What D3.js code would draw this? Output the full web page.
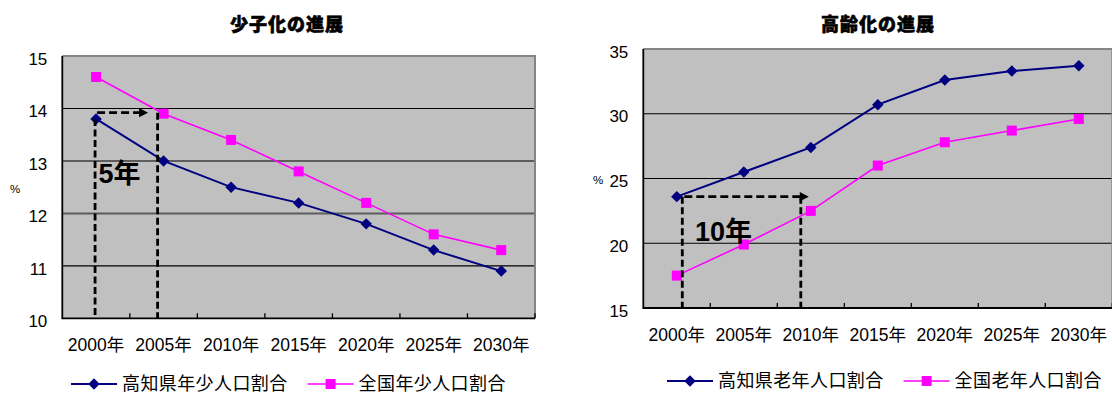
<!DOCTYPE html>
<html>
<head>
<meta charset="utf-8">
<script src="https://cdn.jsdelivr.net/npm/d3@7"></script>
<style>
  html, body { margin: 0; padding: 0; background: #fff; }
  svg { display: block; }
</style>
</head>
<body>
<svg id="chart" width="1112" height="394"></svg>
<script>
// ---- data ----
const years = ["2000年", "2005年", "2010年", "2015年", "2020年", "2025年", "2030年"];

const kochiYouth   = [13.8, 13.0, 12.5, 12.2, 11.8, 11.3, 10.9];
const japanYouth   = [14.6, 13.9, 13.4, 12.8, 12.2, 11.6, 11.3];
const kochiElderly = [23.6, 25.5, 27.4, 30.7, 32.6, 33.3, 33.7];
const japanElderly = [17.5, 19.9, 22.5, 26.0, 27.8, 28.7, 29.6];

const youthTicks   = [10, 11, 12, 13, 14, 15];
const elderlyTicks = [15, 20, 25, 30, 35];

const youthNames   = ["高知県年少人口割合", "全国年少人口割合"];
const elderlyNames = ["高知県老年人口割合", "全国老年人口割合"];

// ---- styling ----
const NAVY = "#000080", MAGENTA = "#FF00FF", PLOT_BG = "#C0C0C0";
const LATIN = "'Liberation Sans', Arial, 'Noto Sans CJK JP', sans-serif";
const CJK = "'Noto Sans CJK JP', 'Noto Sans CJK SC', sans-serif";

const svg = d3.select("#chart");

function drawPanel(p) {
  const g = svg.append("g");
  const x = d3.scaleBand().domain(years).range([p.x0, p.x1]).padding(0);
  const y = d3.scaleLinear().domain(d3.extent(p.ticks)).range([p.yBot, p.yTop]);
  const cx = d => x(d) + x.bandwidth() / 2;

  // plot area
  g.append("rect")
    .attr("x", p.x0).attr("y", p.yTop)
    .attr("width", p.x1 - p.x0).attr("height", p.yBot - p.yTop)
    .attr("fill", PLOT_BG);

  // horizontal gridlines
  const maxTick = d3.max(p.ticks), minTick = d3.min(p.ticks);
  g.append("g").selectAll("line")
    .data(p.ticks.filter(t => t !== maxTick && t !== minTick))
    .join("line")
    .attr("x1", p.x0).attr("x2", p.x1)
    .attr("y1", d => y(d)).attr("y2", d => y(d))
    .attr("stroke", d => p.heavyGrid.includes(d) ? "#5c5c5c" : "#000")
    .attr("stroke-width", d => p.heavyGrid.includes(d) ? 2 : 1.1);

  // top / right border of the plot area
  g.append("path")
    .attr("d", `M${p.x0},${p.yTop}H${p.x1}V${p.yBot}`)
    .attr("fill", "none").attr("stroke", "#858585").attr("stroke-width", 2);

  // y axis labels
  const ya = g.append("g")
    .attr("transform", `translate(${p.x0},0)`)
    .call(d3.axisLeft(y).tickValues(p.ticks).tickSize(0).tickPadding(15).tickFormat(d3.format("d")));
  ya.select(".domain").remove();
  ya.selectAll("text")
    .attr("dy", "0.48em")
    .style("font-family", LATIN).style("font-size", "17px").attr("fill", "#000");

  // x axis labels
  const xa = g.append("g")
    .attr("transform", `translate(0,${p.yBot})`)
    .call(d3.axisBottom(x).tickSize(0));
  xa.select(".domain").remove();
  xa.selectAll("text")
    .attr("y", 33).attr("dy", 0)
    .style("font-family", LATIN).style("font-size", "17.5px").attr("fill", "#000");

  // category boundary ticks (pointing into the plot)
  const bounds = years.map(d => x(d)).concat([x(years[years.length - 1]) + x.bandwidth()]);
  g.append("g").selectAll("line").data(bounds.slice(1)).join("line")
    .attr("x1", d => d).attr("x2", d => d)
    .attr("y1", p.yBot).attr("y2", p.yBot - 5)
    .attr("stroke", "#000").attr("stroke-width", 1.3);

  // axis lines
  g.append("path")
    .attr("d", `M${p.x0},${p.yTop}V${p.yBot}H${p.x1}`)
    .attr("fill", "none").attr("stroke", "#000").attr("stroke-width", 1.8);

  // "%" unit label
  g.append("text")
    .attr("x", p.pctX).attr("y", p.pctY)
    .attr("text-anchor", "middle")
    .style("font-family", LATIN).style("font-size", "11.5px")
    .text("%");

  // title
  g.append("text")
    .attr("x", p.titleX).attr("y", 31)
    .attr("text-anchor", "middle")
    .style("font-family", CJK).style("font-size", "18px").style("font-weight", 900)
    .style("letter-spacing", "1px")
    .attr("stroke", "#000").attr("stroke-width", 0.6)
    .text(p.title);

  // series lines and markers
  const line = d3.line().x((v, i) => cx(years[i])).y(v => y(v));
  const series = [
    { values: p.kochi, color: NAVY, width: 2, symbol: d3.symbol(d3.symbolSquare, 66)(), rot: 45 },
    { values: p.japan, color: MAGENTA, width: 1.6, symbol: d3.symbol(d3.symbolSquare, 100)(), rot: 0 }
  ];
  // draw the national series first so the prefecture line sits on top
  [series[1], series[0]].forEach(s => {
    g.append("path").datum(s.values)
      .attr("d", line).attr("fill", "none")
      .attr("stroke", s.color).attr("stroke-width", s.width);
    g.append("g").selectAll("path").data(s.values).join("path")
      .attr("d", s.symbol)
      .attr("transform", (v, i) => `translate(${cx(years[i])},${y(v)}) rotate(${s.rot})`)
      .attr("fill", s.color);
  });

  // dashed annotation: gap in years
  const a = p.note;
  const vx1 = cx(years[a.from]) + a.dx1;
  const vx2 = cx(years[a.to]) + a.dx2;
  const tip = cx(years[a.to]) + a.dTip;
  const ay = y(a.level);
  const ann = g.append("g").attr("stroke", "#000").attr("stroke-width", 2.8).attr("fill", "none");
  ann.append("line").attr("x1", vx1).attr("x2", vx1).attr("y1", y(a.start)).attr("y2", p.yBot)
    .attr("stroke-dasharray", "7,3.5");
  ann.append("line").attr("x1", vx2).attr("x2", vx2).attr("y1", ay).attr("y2", p.yBot)
    .attr("stroke-dasharray", "7,3.5");
  ann.append("line").attr("x1", vx1 + 2).attr("x2", tip - 8).attr("y1", ay).attr("y2", ay)
    .attr("stroke-dasharray", "8,4");
  g.append("path")
    .attr("d", `M${tip},${ay}L${tip - 9},${ay - 4.7}L${tip - 9},${ay + 4.7}Z`)
    .attr("fill", "#000");
  g.append("text")
    .attr("x", vx1 + a.labelDx).attr("y", y(a.labelLevel))
    .style("font-family", LATIN).style("font-size", "27px").style("font-weight", "bold")
    .attr("fill", "#000")
    .text(a.label);

  // legend
  const lg = g.append("g").attr("transform", `translate(${p.legendX},${p.legendY})`);
  let lx = 0;
  series.forEach((s, i) => {
    lg.append("line").attr("x1", lx).attr("x2", lx + 46).attr("y1", 0).attr("y2", 0)
      .attr("stroke", s.color).attr("stroke-width", s.width);
    lg.append("path").attr("d", s.symbol)
      .attr("transform", `translate(${lx + 23},0) rotate(${s.rot})`).attr("fill", s.color);
    const t = lg.append("text").attr("x", lx + 51).attr("y", 5.5)
      .style("font-family", CJK).style("font-size", "18px")
      .style("letter-spacing", "0.4px")
      .attr("fill", "#000")
      .text(p.names[i]);
    lx += 51 + t.node().getComputedTextLength() + 20;
  });
}

drawPanel({
  x0: 62.3, x1: 535, yTop: 56, yBot: 318.3,
  ticks: youthTicks, heavyGrid: [12, 13],
  kochi: kochiYouth, japan: japanYouth, names: youthNames,
  title: "少子化の進展", titleX: 287,
  pctX: 15, pctY: 193,
  legendX: 71, legendY: 384,
  note: { from: 0, to: 1, start: kochiYouth[0], level: 13.92, dx1: -1, dx2: -6, dTip: -15.5,
          label: "5年", labelDx: 3.5, labelLevel: 12.57 }
});

drawPanel({
  x0: 643.3, x1: 1112.3, yTop: 49, yBot: 308,
  ticks: elderlyTicks, heavyGrid: [],
  kochi: kochiElderly, japan: japanElderly, names: elderlyNames,
  title: "高齢化の進展", titleX: 878,
  pctX: 598, pctY: 184,
  legendX: 667, legendY: 381,
  note: { from: 0, to: 2, start: kochiElderly[0], level: 23.6, dx1: 5.5, dx2: -10, dTip: -2,
          label: "10年", labelDx: 12.7, labelLevel: 20.15 }
});
</script>
</body>
</html>
